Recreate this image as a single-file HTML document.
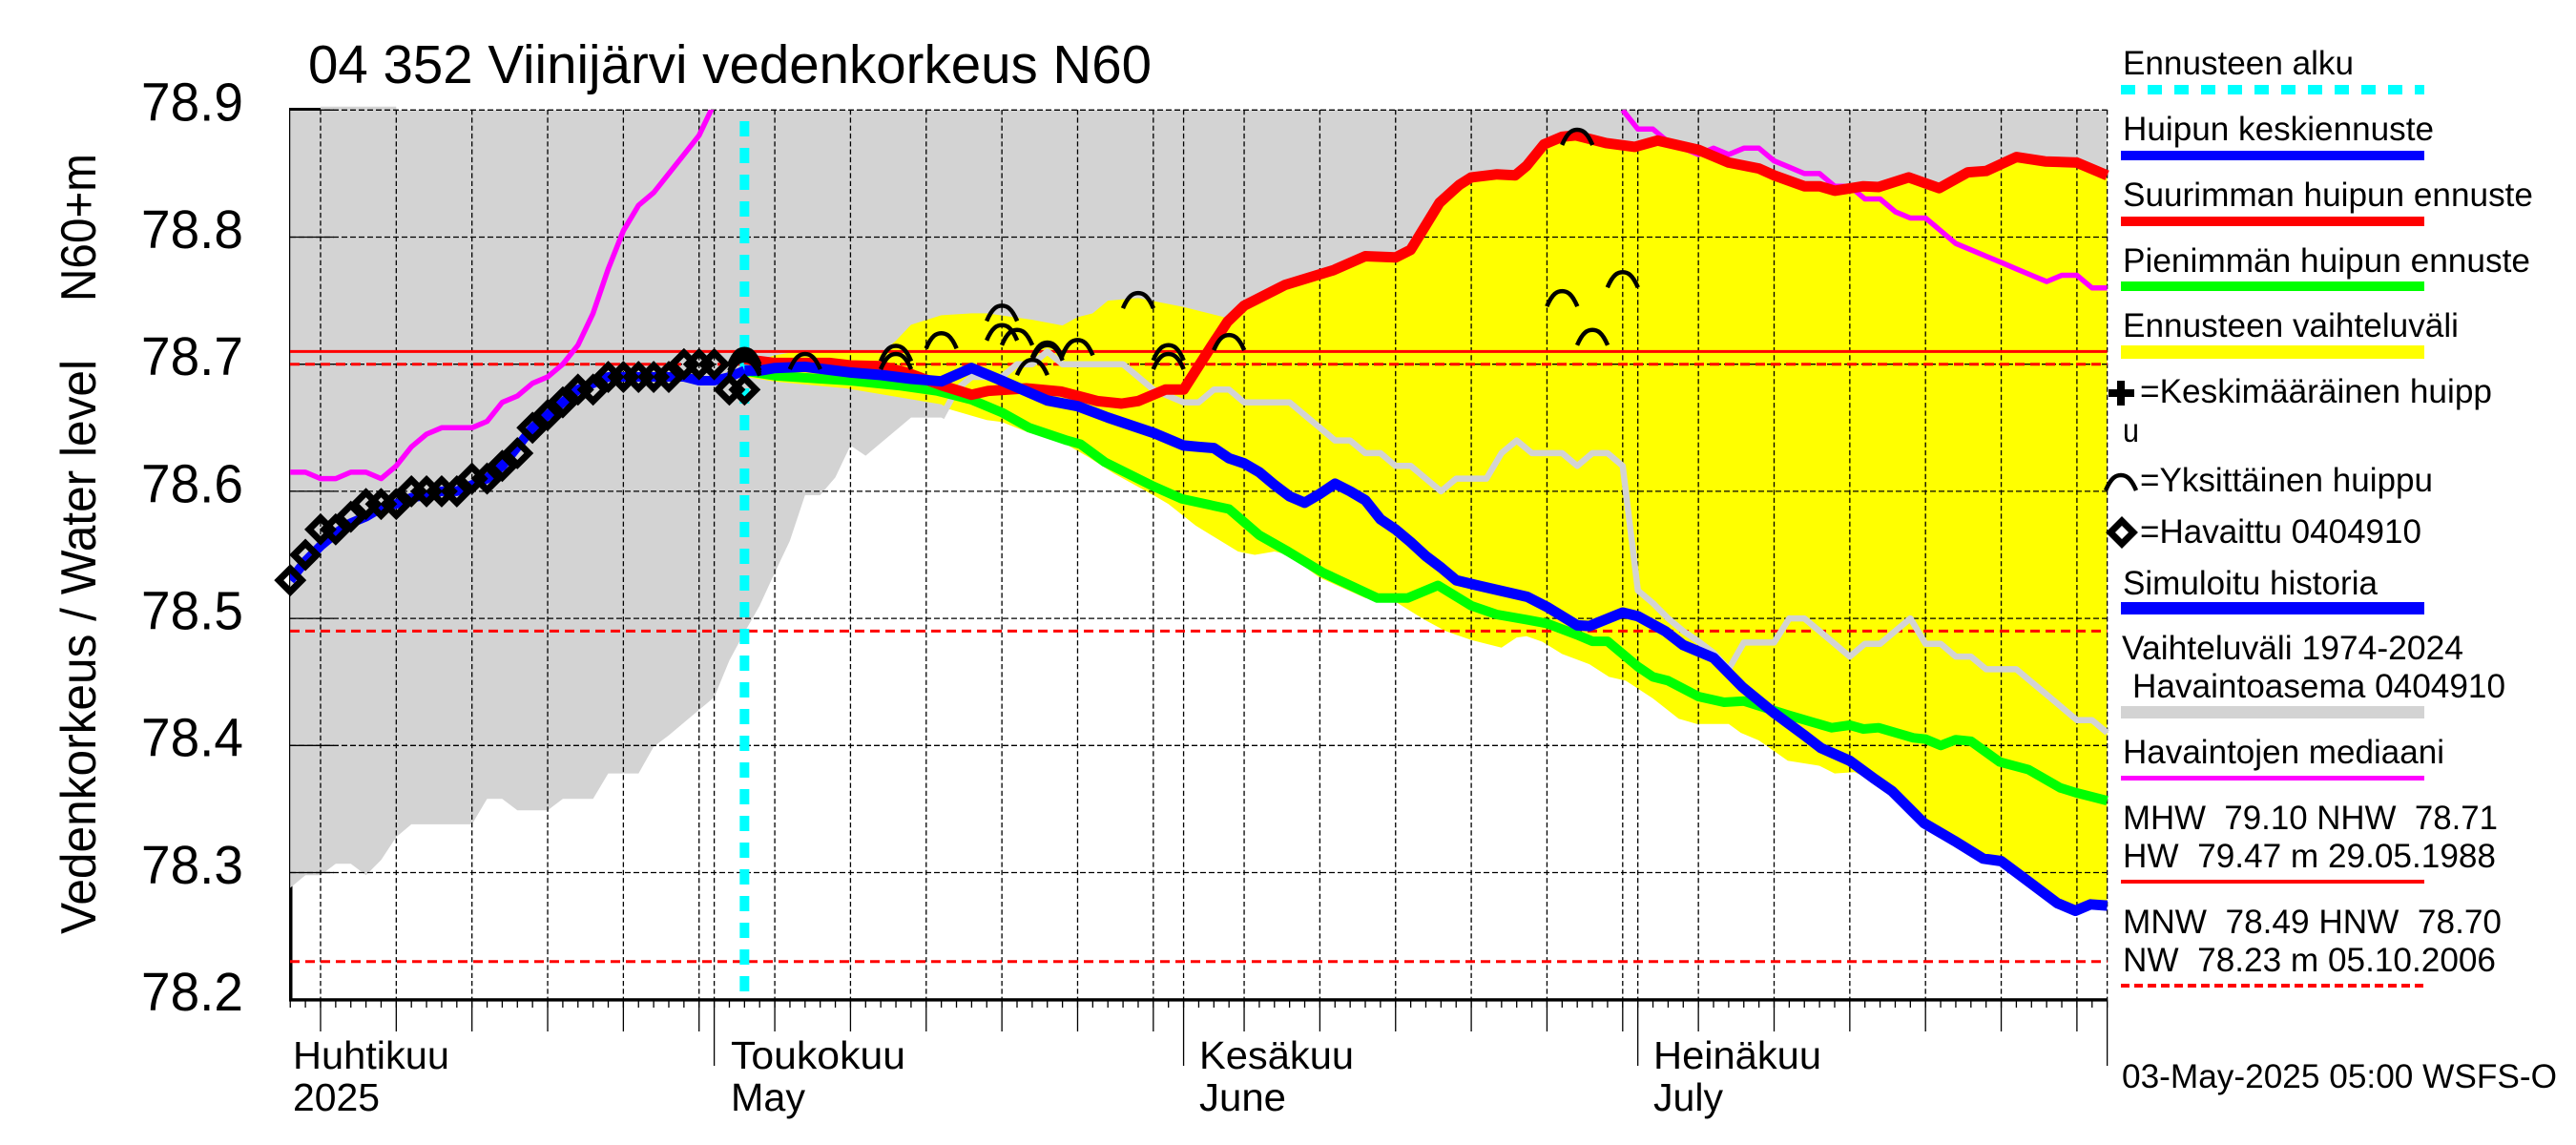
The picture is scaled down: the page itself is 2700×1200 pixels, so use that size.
<!DOCTYPE html>
<html lang="fi">
<head>
<meta charset="utf-8">
<title>04 352 Viinijärvi vedenkorkeus N60</title>
<style>
html,body{margin:0;padding:0;background:#fff;width:2700px;height:1200px;overflow:hidden}
svg{display:block}
text{font-family:"Liberation Sans",sans-serif;fill:#000;white-space:pre}
.lg{font-size:35px}
.mo{font-size:41px}
</style>
</head>
<body>
<svg id="chart" xmlns="http://www.w3.org/2000/svg" width="2700" height="1200" viewBox="0 0 2700 1200">
  <defs>
    <clipPath id="plot-clip"><rect x="304" y="115" width="1908" height="933"/></clipPath>
  </defs>
  <rect x="0" y="0" width="2700" height="1200" fill="#fff"/>
  <g id="plot-layer"></g>

  <text x="323" y="87" font-size="57" textLength="884" lengthAdjust="spacingAndGlyphs">04 352 Viinijärvi vedenkorkeus N60</text>
  <text transform="translate(100,979) rotate(-90)" font-size="52" textLength="602" lengthAdjust="spacingAndGlyphs">Vedenkorkeus / Water level</text>
  <text transform="translate(100,316) rotate(-90)" font-size="52" textLength="155" lengthAdjust="spacingAndGlyphs">N60+m</text>

  <text class="mo" x="307" y="1120" textLength="164" lengthAdjust="spacingAndGlyphs">Huhtikuu</text>
  <text class="mo" x="307" y="1164" textLength="91" lengthAdjust="spacingAndGlyphs">2025</text>
  <text class="mo" x="766" y="1120" textLength="183" lengthAdjust="spacingAndGlyphs">Toukokuu</text>
  <text class="mo" x="766" y="1164" textLength="78" lengthAdjust="spacingAndGlyphs">May</text>
  <text class="mo" x="1257" y="1120" textLength="162" lengthAdjust="spacingAndGlyphs">Kesäkuu</text>
  <text class="mo" x="1257" y="1164" textLength="91" lengthAdjust="spacingAndGlyphs">June</text>
  <text class="mo" x="1733" y="1120" textLength="176" lengthAdjust="spacingAndGlyphs">Heinäkuu</text>
  <text class="mo" x="1733" y="1164" textLength="73" lengthAdjust="spacingAndGlyphs">July</text>

  <g>
    <text class="lg" x="2225" y="78" textLength="242" lengthAdjust="spacingAndGlyphs">Ennusteen alku</text>
    <line x1="2223" y1="94" x2="2541" y2="94" stroke="#00ffff" stroke-width="10" stroke-dasharray="15 13"/>
    <text class="lg" x="2225" y="147" textLength="326" lengthAdjust="spacingAndGlyphs">Huipun keskiennuste</text>
    <rect x="2223" y="158" width="318" height="10" fill="#0000ff"/>
    <text class="lg" x="2225" y="216" textLength="430" lengthAdjust="spacingAndGlyphs">Suurimman huipun ennuste</text>
    <rect x="2223" y="227" width="318" height="10" fill="#ff0000"/>
    <text class="lg" x="2225" y="285" textLength="427" lengthAdjust="spacingAndGlyphs">Pienimmän huipun ennuste</text>
    <rect x="2223" y="295" width="318" height="10" fill="#00ff00"/>
    <text class="lg" x="2225" y="353" textLength="352" lengthAdjust="spacingAndGlyphs">Ennusteen vaihteluväli</text>
    <rect x="2223" y="362" width="318" height="14" fill="#ffff00"/>
    <path d="M2210 412H2237M2223 399V425" stroke="#000" stroke-width="8" fill="none"/>
    <text class="lg" x="2243" y="422" textLength="369" lengthAdjust="spacingAndGlyphs">=Keskimääräinen huipp</text>
    <text class="lg" x="2225" y="463" textLength="17" lengthAdjust="spacingAndGlyphs">u</text>
    <path d="M2207 514C2213 500 2218 498 2223 498C2228 498 2233 500 2239 514" stroke="#000" stroke-width="4.5" fill="none"/>
    <text class="lg" x="2243" y="515" textLength="307" lengthAdjust="spacingAndGlyphs">=Yksittäinen huippu</text>
    <polygon points="2224,546 2236,558 2224,570 2212,558" fill="none" stroke="#000" stroke-width="7"/>
    <text class="lg" x="2243" y="569" textLength="295" lengthAdjust="spacingAndGlyphs">=Havaittu 0404910</text>
    <text class="lg" x="2225" y="623" textLength="267" lengthAdjust="spacingAndGlyphs">Simuloitu historia</text>
    <rect x="2223" y="631" width="318" height="13" fill="#0000ff"/>
    <text class="lg" x="2224" y="691" textLength="358" lengthAdjust="spacingAndGlyphs">Vaihteluväli 1974-2024</text>
    <text class="lg" x="2235" y="731" textLength="391" lengthAdjust="spacingAndGlyphs">Havaintoasema 0404910</text>
    <rect x="2223" y="740" width="318" height="13" fill="#d3d3d3"/>
    <text class="lg" x="2225" y="800" textLength="337" lengthAdjust="spacingAndGlyphs">Havaintojen mediaani</text>
    <rect x="2223" y="813" width="318" height="5" fill="#ff00ff"/>
    <text class="lg" x="2225" y="869" textLength="393" lengthAdjust="spacingAndGlyphs">MHW  79.10 NHW  78.71</text>
    <text class="lg" x="2225" y="909" textLength="391" lengthAdjust="spacingAndGlyphs">HW  79.47 m 29.05.1988</text>
    <rect x="2223" y="922" width="318" height="4" fill="#ff0000"/>
    <text class="lg" x="2225" y="978" textLength="397" lengthAdjust="spacingAndGlyphs">MNW  78.49 HNW  78.70</text>
    <text class="lg" x="2225" y="1018" textLength="391" lengthAdjust="spacingAndGlyphs">NW  78.23 m 05.10.2006</text>
    <line x1="2223" y1="1033" x2="2541" y2="1033" stroke="#ff0000" stroke-width="4" stroke-dasharray="9 5"/>
    <text class="lg" x="2224" y="1140" textLength="456" lengthAdjust="spacingAndGlyphs">03-May-2025 05:00 WSFS-O</text>
  </g>
</svg>
<script>
// ---- axis data (days counted from 1 April 2025 = 0) ----
const levelTicks = [78.9, 78.8, 78.7, 78.6, 78.5, 78.4, 78.3, 78.2];
const levelTickLabels = ['78.9', '78.8', '78.7', '78.6', '78.5', '78.4', '78.3', '78.2'];
const gridDays = [4, 9, 14, 19, 24, 29, 34, 39, 44, 49, 54, 59, 65, 70, 75, 80, 85, 90, 95, 100, 105, 110, 115, 120];
const monthDays = [30, 61, 91, 122];
const firstDay = 2;
const lastDay = 122;
const forecastStartDay = 32;
const highWaterLevels = [78.71];
const lowWaterLevels = [78.70, 78.49, 78.23];

// ---- series, as [day, level] ----
const rangeLowFromApril = [78.288, 78.298, 78.298, 78.307, 78.307, 78.298, 78.31, 78.328, 78.338, 78.338, 78.338, 78.338, 78.338, 78.358, 78.358, 78.349, 78.349, 78.349, 78.358, 78.358, 78.358, 78.378, 78.378, 78.378, 78.399, 78.408, 78.418, 78.428, 78.438, 78.467, 78.489, 78.51, 78.536, 78.561, 78.597, 78.597, 78.611, 78.636, 78.628, 78.638, 78.648, 78.658, 78.658, 78.658, 78.68, 78.69, 78.69, 78.69, 78.70, 78.70, 78.71, 78.70, 78.70, 78.70, 78.70, 78.70, 78.69, 78.68, 78.675, 78.67, 78.67, 78.68, 78.68, 78.67, 78.67, 78.67, 78.67, 78.66, 78.65, 78.64, 78.64, 78.63, 78.63, 78.62, 78.62, 78.61, 78.60, 78.61, 78.61, 78.61, 78.63, 78.64, 78.63, 78.63, 78.63, 78.62, 78.63, 78.63, 78.62, 78.522, 78.512, 78.50, 78.49, 78.482, 78.473, 78.46, 78.481, 78.481, 78.481, 78.50, 78.50, 78.49, 78.48, 78.47, 78.48, 78.48, 78.49, 78.50, 78.48, 78.48, 78.47, 78.47, 78.46, 78.46, 78.46, 78.45, 78.44, 78.43, 78.42, 78.42, 78.41];
const medianEarly = [78.615, 78.615, 78.61, 78.61, 78.615, 78.615, 78.61, 78.62, 78.635, 78.645, 78.65, 78.65, 78.65, 78.655, 78.67, 78.675, 78.685, 78.69, 78.70, 78.715, 78.74, 78.775, 78.805, 78.825, 78.835, 78.85, 78.865, 78.88, 78.905];
const medianLate = [78.90, 78.885, 78.885, 78.875, 78.87, 78.865, 78.87, 78.865, 78.87, 78.87, 78.86, 78.855, 78.85, 78.85, 78.84, 78.84, 78.83, 78.83, 78.82, 78.815, 78.815, 78.805, 78.795, 78.79, 78.785, 78.78, 78.775, 78.77, 78.765, 78.77, 78.77, 78.76, 78.76];
const observedLevels = [78.53, 78.55, 78.57, 78.57, 78.58, 78.59, 78.59, 78.59, 78.60, 78.60, 78.60, 78.60, 78.61, 78.61, 78.62, 78.63, 78.65, 78.66, 78.67, 78.68, 78.68, 78.69, 78.69, 78.69, 78.69, 78.69, 78.70, 78.70, 78.70, 78.68, 78.68];
const simulatedLevels = [78.53, 78.545, 78.557, 78.567, 78.575, 78.58, 78.587, 78.59, 78.595, 78.597, 78.60, 78.60, 78.605, 78.61, 78.62, 78.635, 78.65, 78.66, 78.67, 78.68, 78.685, 78.69, 78.69, 78.69, 78.69, 78.69, 78.69, 78.687, 78.687, 78.69, 78.695];
const meanForecast = [[32,78.695],[33,78.695],[34,78.697],[36,78.698],[39,78.6935],[41,78.6915],[43,78.6885],[45,78.6865],[47,78.697],[49,78.687],[52,78.6715],[54,78.667],[56,78.658],[59,78.646],[61,78.636],[62,78.635],[63,78.634],[64,78.626],[65,78.622],[66,78.615],[67,78.605],[68,78.596],[69,78.591],[70,78.598],[71,78.606],[72,78.600],[73,78.593],[74,78.578],[75,78.570],[76,78.560],[77,78.549],[78,78.54],[79,78.53],[80.4,78.526],[83.7,78.517],[85,78.509],[87,78.4945],[87.8,78.494],[90,78.5046],[91,78.5017],[92.8,78.49],[94,78.479],[96,78.469],[97.9,78.446],[100,78.4256],[102,78.408],[103.1,78.398],[105,78.388],[106.6,78.374],[107.8,78.364],[109.9,78.339],[111.9,78.325],[113.8,78.311],[115,78.309],[116.8,78.293],[118.7,78.276],[119.9,78.27],[120.9,78.275],[122,78.274]];
const minForecast = [[32,78.695],[32.4,78.694],[34,78.691],[37,78.6885],[39,78.687],[42.3,78.683],[44.7,78.679],[47,78.672],[49,78.662],[50.8,78.650],[53.3,78.640],[54.2,78.637],[55.8,78.623],[59,78.604],[60.9,78.594],[64,78.586],[66,78.5655],[67.9,78.5526],[70.2,78.536],[73.8,78.516],[75.8,78.516],[77.8,78.526],[80,78.51],[81.7,78.503],[83.65,78.499],[85,78.496],[87,78.487],[88,78.482],[89,78.482],[91,78.462],[92,78.454],[93,78.451],[95,78.4385],[96.7,78.434],[98,78.435],[99.3,78.43],[100.9,78.424],[103.8,78.414],[105,78.416],[105.9,78.413],[106.9,78.414],[109.2,78.406],[110,78.405],[111,78.40],[112,78.4046],[113,78.4034],[114.9,78.387],[116.8,78.381],[118.9,78.3667],[119.9,78.363],[122,78.3566]];
const maxForecast = [[32,78.704],[34,78.701],[37.6,78.701],[39,78.699],[41,78.6985],[42.7,78.6935],[45,78.6835],[47,78.676],[48.1,78.679],[50.6,78.681],[52.9,78.6785],[55.3,78.671],[56.9,78.669],[58,78.671],[59.8,78.68],[61,78.68],[62.8,78.7135],[63.9,78.7335],[65,78.746],[67.3,78.76],[67.7,78.7624],[70.9,78.774],[73,78.785],[75,78.784],[76,78.79],[77.9,78.827],[79.2,78.841],[80,78.847],[81.7,78.8494],[82.9,78.8486],[83.65,78.856],[84.8,78.873],[86,78.879],[86.9,78.88],[88.9,78.874],[90.8,78.871],[92.3,78.876],[95,78.8687],[97,78.8586],[99,78.854],[100,78.8486],[102,78.84],[103,78.84],[104,78.8365],[105.9,78.84],[106.9,78.8394],[108.9,78.847],[110.9,78.8385],[112.8,78.851],[114,78.852],[116,78.863],[117.9,78.8595],[120,78.8586],[122,78.8486]];
const forecastRangeTop = [[32,78.70],[34,78.707],[36,78.711],[39,78.711],[41,78.7085],[42,78.7185],[43,78.731],[45,78.7385],[47,78.74],[48,78.74],[51,78.735],[53,78.7305],[54,78.737],[55,78.74],[56,78.75],[58,78.752],[61,78.745],[64,78.736],[65,78.746],[67.3,78.76],[67.7,78.7624],[70.9,78.774],[73,78.785],[75,78.784],[76,78.79],[77.9,78.827],[79.2,78.841],[80,78.847],[81.7,78.8494],[82.9,78.8486],[84.8,78.873],[86,78.879],[86.9,78.88],[88.9,78.874],[90.8,78.871],[92.3,78.876],[95,78.8687],[97,78.8586],[99,78.854],[100,78.8486],[102,78.84],[103,78.84],[104,78.8365],[105.9,78.84],[106.9,78.8394],[108.9,78.847],[110.9,78.8385],[112.8,78.851],[114,78.852],[116,78.863],[117.9,78.8595],[120,78.8586],[122,78.8486]];
const forecastRangeBottom = [[32,78.69],[34.2,78.686],[38.7,78.681],[45,78.6685],[45.5,78.6647],[48,78.656],[49,78.6546],[50.8,78.646],[52.8,78.64],[54.7,78.627],[56.4,78.614],[59,78.597],[60,78.59],[61.8,78.573],[64.6,78.5526],[65.7,78.55],[67,78.5526],[67.9,78.55],[70,78.532],[73,78.516],[74,78.514],[75,78.513],[76.9,78.499],[78.3,78.49],[80,78.483],[82,78.477],[83,78.485],[83.65,78.486],[84.7,78.4816],[86,78.472],[87.8,78.464],[89.1,78.454],[90.2,78.451],[92,78.437],[93.7,78.421],[94.9,78.417],[97,78.417],[97.8,78.41],[99,78.404],[100.9,78.388],[103,78.384],[104,78.378],[105.3,78.379],[107.2,78.369],[107.8,78.364],[109.9,78.339],[111.9,78.325],[113.8,78.311],[115,78.309],[116.8,78.293],[118.7,78.276],[119.9,78.27],[120.9,78.275],[122,78.274]];
const singlePeaks = [[32,78.712],[32,78.71],[32,78.707],[32,78.705],[32,78.703],[36,78.708],[42,78.7144],[42,78.708],[45,78.7244],[49,78.746],[49,78.7307],[50,78.727],[51,78.7034],[52,78.717],[52,78.715],[54,78.719],[58,78.756],[60,78.715],[60,78.708],[64,78.723],[86,78.7575],[87,78.8845],[88,78.727],[90,78.7724]];

// ---- axis functions ----
function xOf(day) { return 272.5 + 15.87 * day; }
function yOf(level) { return 115.3 + (78.9 - level) * 1332; }
function pts(pairs) { return pairs.map(function (p) { return xOf(p[0]).toFixed(1) + ',' + yOf(p[1]).toFixed(1); }).join(' '); }
function daily(values, startDay) { return values.map(function (v, i) { return [startDay + i, v]; }); }

const NS = 'http://www.w3.org/2000/svg';
const layer = document.getElementById('plot-layer');
function make(tag, attrs, parent) {
  const el = document.createElementNS(NS, tag);
  Object.keys(attrs).forEach(function (k) { el.setAttribute(k, attrs[k]); });
  (parent || layer).appendChild(el);
  return el;
}
let el;

// thick axis under the range band
el = make('rect', { x: 303, y: 115, width: 3.5, height: 934, fill: '#000' });



// historical range band
const rangeSeries = daily(rangeLowFromApril, firstDay);
el = make('polygon', { points: xOf(firstDay) + ',' + yOf(78.9) + ' ' + pts(rangeSeries) + ' ' + xOf(lastDay) + ',' + yOf(78.9), fill: '#d3d3d3' });


el = make('rect', { x: xOf(4), y: 111.7, width: xOf(9) - xOf(4), height: 4, fill: '#d3d3d3' });


el = make('rect', { x: 303, y: 113, width: xOf(4) - 303, height: 3, fill: '#000' });



// forecast range band
el = make('polygon', { points: pts(forecastRangeTop) + ' ' + pts(forecastRangeBottom.slice().reverse()), fill: '#ffff00' });



// grid
levelTicks.forEach(function (lv, i) {
  if (i < levelTicks.length - 1) {
    el = make('line', { x1: 304, y1: yOf(lv), x2: xOf(lastDay), y2: yOf(lv), stroke: '#000', 'stroke-width': 1.3, 'stroke-dasharray': '6 3' });
    
    
    el = make('line', { x1: 304, y1: yOf(lv), x2: 350, y2: yOf(lv), stroke: '#000', 'stroke-width': 1.3 });
    
    
  }
  el = make('text', { x: 148, y: yOf(lv) + 11.4, 'font-size': 57, textLength: 107, lengthAdjust: 'spacingAndGlyphs' });
  
  
  el.textContent = levelTickLabels[i];
});
gridDays.concat(monthDays).forEach(function (d) {
  el = make('line', { x1: xOf(d), y1: 115, x2: xOf(d), y2: 1048, stroke: '#000', 'stroke-width': 1.3, 'stroke-dasharray': '5.3 3' });
  
  
});

// x axis with day, five-day and month ticks
for (let d = firstDay; d <= lastDay; d++) {
  el = make('line', { x1: xOf(d), y1: 1048, x2: xOf(d), y2: 1056, stroke: '#000', 'stroke-width': 1.3 });
  
  
}
gridDays.forEach(function (d) {
  el = make('line', { x1: xOf(d), y1: 1048, x2: xOf(d), y2: 1081, stroke: '#000', 'stroke-width': 1.3 });
  
  
});
monthDays.forEach(function (d) {
  el = make('line', { x1: xOf(d), y1: 1048, x2: xOf(d), y2: 1117, stroke: '#000', 'stroke-width': 1.3 });
  
  
});
el = make('rect', { x: 303, y: 1046.2, width: xOf(lastDay) - 303, height: 3.4, fill: '#000' });



// reference levels
highWaterLevels.forEach(function (lv) {
  el = make('line', { x1: 304, y1: yOf(lv), x2: xOf(lastDay), y2: yOf(lv), stroke: '#ff0000', 'stroke-width': 3 });
  
  
});
lowWaterLevels.forEach(function (lv) {
  el = make('line', { x1: 304, y1: yOf(lv), x2: xOf(lastDay), y2: yOf(lv), stroke: '#ff0000', 'stroke-width': 3, 'stroke-dasharray': '10 6' });
  
  
});

// forecast start marker
el = make('line', { x1: xOf(forecastStartDay), y1: 127, x2: xOf(forecastStartDay), y2: 1048, stroke: '#00ffff', 'stroke-width': 10, 'stroke-dasharray': '16 12' });



// series lines, clipped to the plot
const series = make('g', { 'clip-path': 'url(#plot-clip)', fill: 'none', 'stroke-linejoin': 'round' });



el = make('polyline', { points: pts(rangeSeries.filter(function (p) { return p[0] >= 45; })), stroke: '#d3d3d3', 'stroke-width': 6.5 }, series);


el = make('polyline', { points: pts(daily(medianEarly, firstDay)), stroke: '#ff00ff', 'stroke-width': 5.5 }, series);


el = make('polyline', { points: pts(daily(medianLate, 90)), stroke: '#ff00ff', 'stroke-width': 5.5 }, series);


el = make('polyline', { points: pts(minForecast), stroke: '#00ff00', 'stroke-width': 10 }, series);


el = make('polyline', { points: pts(maxForecast), stroke: '#ff0000', 'stroke-width': 11 }, series);


el = make('polyline', { points: pts(daily(simulatedLevels, firstDay)), stroke: '#0000ff', 'stroke-width': 10 }, series);


el = make('polyline', { points: pts(meanForecast), stroke: '#0000ff', 'stroke-width': 11 }, series);



// single-year peak arcs
singlePeaks.forEach(function (p) {
  const cx = xOf(p[0]);
  const cy = yOf(p[1]);
  const arcPath = 'M' + (cx - 16) + ' ' + (cy + 16) + 'C' + (cx - 10) + ' ' + (cy + 2) + ' ' + (cx - 5) + ' ' + cy + ' ' + cx + ' ' + cy + 'C' + (cx + 5) + ' ' + cy + ' ' + (cx + 10) + ' ' + (cy + 2) + ' ' + (cx + 16) + ' ' + (cy + 16);
  el = make('path', { d: arcPath, fill: 'none', stroke: '#000', 'stroke-width': 4.5 });
  
  
});

// observed diamonds
observedLevels.forEach(function (lv, i) {
  const cx = xOf(firstDay + i);
  const cy = yOf(lv);
  const r = 12;
  el = make('polygon', { points: cx + ',' + (cy - r) + ' ' + (cx + r) + ',' + cy + ' ' + cx + ',' + (cy + r) + ' ' + (cx - r) + ',' + cy, fill: 'none', stroke: '#000', 'stroke-width': 7 });
  
  
});
</script>
</body>
</html>
